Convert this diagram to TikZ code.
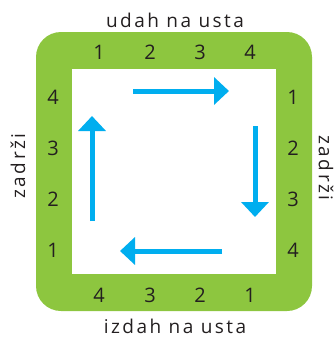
\documentclass[tikz,border=0pt]{standalone}
\usepackage{fontspec}
\setmainfont{Open Sans}
\usetikzlibrary{arrows.meta}
\definecolor{grn}{HTML}{8DC63F}
\definecolor{blu}{HTML}{00AEEF}
\definecolor{txt}{HTML}{231F20}
\begin{document}
\begin{tikzpicture}[x=1pt,y=-1pt,
  num/.style={text=txt,font=\fontsize{20}{20}\selectfont,inner sep=0pt},
  lbl/.style={text=txt,font=\fontsize{19}{19}\selectfont\addfontfeatures{LetterSpace=13},inner sep=0pt},
  flow/.style={blu,line width=5pt,-{Triangle[width=27pt,length=15pt]}}]
\useasboundingbox (0,0) rectangle (335,338);
\fill[grn,rounded corners=25pt] (36,32) rectangle (312,311);
\fill[white] (72,69) rectangle (276,274);
\foreach \t/\x in {1/99,2/150,3/200,4/250} \node[num] (t\t) at (\x,52) {\t};
\foreach \t/\x in {4/99,3/150,2/200,1/250} \node[num] (b\t) at (\x,295) {\t};
\foreach \t/\y in {4/97,3/148,2/199,1/250} \node[num] (l\t) at (53,\y) {\t};
\foreach \t/\y in {1/97,2/148,3/199,4/250} \node[num] (r\t) at (293,\y) {\t};
\node[lbl] (top) at (175,20) {udah na usta};
\node[lbl] (bot) at (175,326.5) {izdah na usta};
\node[lbl,rotate=90] (lft) at (18,166) {zadrži};
\node[lbl,rotate=-90] (rgt) at (326,168) {zadrži};
\coordinate (a1) at (133,91); \coordinate (a2) at (229,91);
\coordinate (b1) at (255,126); \coordinate (b2) at (255,217);
\coordinate (c1) at (222,251); \coordinate (c2) at (120,251);
\coordinate (d1) at (92,221); \coordinate (d2) at (92,116);
\draw[flow] (a1) -- (a2);
\draw[flow] (b1) -- (b2);
\draw[flow] (c1) -- (c2);
\draw[flow] (d1) -- (d2);
\end{tikzpicture}
\end{document}
